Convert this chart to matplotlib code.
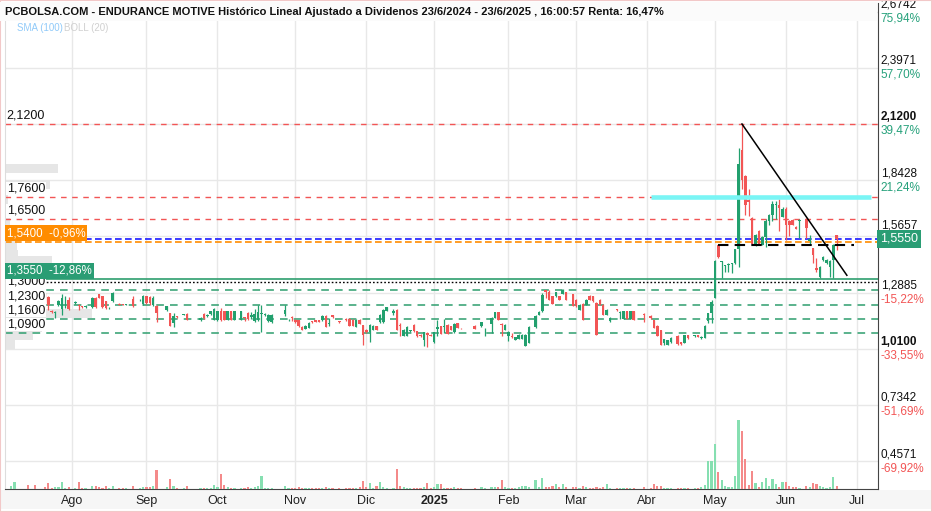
"""
Historic price chart (candles + volume) for Endurance Motive
"""
import numpy as np
import pandas as pd
import matplotlib
matplotlib.use("Agg")
import matplotlib.pyplot as plt
from matplotlib import font_manager
from matplotlib.patches import Rectangle

#----------------------------DATA-------------------------------#
first_day = '2024-07-05'
holidays = ['2024-12-25', '2024-12-26', '2025-01-01', '2025-04-18', '2025-04-21', '2025-05-01']

# one entry per trading day from first_day, None = no trades
opens = [
    None, 1.245, 1.24, None, None, None, 1.255, None, 1.25, None,
    None, 1.262, 1.267, 1.20, 1.19, 1.23, 1.208, 1.255, 1.254, None,
    1.236, 1.228, 1.222, 1.218, None, 1.218, 1.262, 1.28, 1.27, 1.245,
    1.212, 1.245, None, 1.234, 1.23, 1.228, None, 1.256, None, 1.25,
    1.232, 1.27, 1.266, 1.228, 1.225, None, None, 1.205, 1.186, 1.14,
    1.172, None, 1.18, 1.182, None, None, None, 1.152, 1.182, 1.172,
    1.184, 1.156, 1.156, 1.196, 1.196, 1.156, 1.196, 1.156, None, 1.156,
    1.166, 1.188, 1.17, 1.147, 1.152, 1.182, 1.176, 1.147, 1.142, None,
    None, None, 1.185, 1.152, 1.17, 1.156, 1.152, 1.12, 1.11, 1.114,
    1.149, 1.152, 1.152, 1.152, 1.175, 1.135, 1.177, None, 1.149, None,
    1.16, 1.16, 1.156, 1.12, 1.156, 1.129, 1.106, 1.093, 1.106, 1.123,
    1.142, 1.142, 1.2, None, 1.19, 1.205, 1.131, 1.077, 1.077, 1.098,
    1.13, 1.098, 1.082, 1.057, 1.09, 1.082, 1.044, 1.11, 1.123, 1.12,
    1.131, 1.123, 1.093, 1.139, 1.115, None, None, None, 1.126, None,
    1.123, 1.112, None, 1.134, 1.164, 1.193, 1.136, 1.106, 1.077, 1.077,
    1.057, 1.06, 1.06, 1.027, 1.04, None, 1.12, 1.178, 1.197, 1.30,
    1.29, 1.27, 1.27, 1.27, 1.284, 1.29, None, 1.282, 1.254, 1.205,
    1.234, 1.229, 1.274, 1.27, 1.238, 1.254, 1.229, 1.18, 1.147, None,
    1.208, 1.19, 1.159, 1.197, 1.159, 1.197, None, None, 1.185, None,
    1.175, 1.152, 1.126, 1.104, 1.04, 1.03, 1.044, None, 1.076, 1.044,
    1.04, 1.08, None, 1.074, 1.08, 1.063, 1.066, 1.149, 1.186, 1.264,
    1.524, 1.441, 1.42, 1.425, 1.43, 1.433, 1.504, 1.992, 1.864, 1.745,
    1.655, 1.524, 1.592, 1.524, 1.565, 1.642, 1.671, 1.72, 1.72, 1.663,
    1.701, 1.642, 1.647, 1.614, 1.642, None, 1.652, 1.543, 1.507, 1.408,
    1.367, 1.448, 1.433, 1.417, 1.448, 1.573,
]
highs = [
    None, 1.255, 1.26, None, None, None, 1.258, None, 1.252, None,
    None, 1.285, 1.27, 1.203, 1.196, 1.25, 1.28, 1.27, 1.265, None,
    1.246, 1.232, 1.224, 1.226, None, 1.266, 1.266, 1.284, 1.272, 1.248,
    1.218, 1.29, None, 1.236, 1.232, 1.234, None, 1.27, None, 1.256,
    1.276, 1.272, 1.27, 1.27, 1.23, None, None, 1.225, 1.19, 1.186,
    1.174, None, 1.184, 1.186, None, None, None, 1.166, 1.186, 1.182,
    1.2, 1.215, 1.2, 1.213, 1.198, 1.198, 1.198, 1.198, None, 1.198,
    1.17, 1.192, 1.195, 1.21, 1.229, 1.229, 1.186, 1.182, 1.182, None,
    None, None, 1.229, 1.158, 1.172, 1.158, 1.155, 1.122, 1.128, 1.142,
    1.15, 1.154, 1.154, 1.178, 1.178, 1.164, 1.178, None, 1.15, None,
    1.162, 1.162, 1.158, 1.158, 1.158, 1.131, 1.11, 1.132, 1.128, 1.125,
    1.182, 1.208, 1.22, None, 1.208, 1.208, 1.139, 1.108, 1.122, 1.104,
    1.132, 1.1, 1.084, 1.095, 1.092, 1.084, 1.095, 1.156, 1.125, 1.159,
    1.133, 1.125, 1.138, 1.141, 1.116, None, None, None, 1.128, None,
    1.144, 1.116, None, 1.166, 1.195, 1.195, 1.14, 1.133, 1.098, 1.09,
    1.07, 1.084, 1.084, 1.084, 1.122, None, 1.176, 1.197, 1.285, 1.302,
    1.30, 1.272, 1.292, 1.272, 1.305, 1.292, None, 1.284, 1.256, 1.231,
    1.236, 1.256, 1.276, 1.272, 1.24, 1.256, 1.231, 1.207, 1.166, None,
    1.21, 1.196, 1.199, 1.199, 1.199, 1.199, None, None, 1.186, None,
    1.177, 1.154, 1.129, 1.106, 1.062, 1.057, 1.068, None, 1.078, 1.046,
    1.082, 1.082, None, 1.082, 1.082, 1.073, 1.128, 1.19, 1.25, 1.45,
    1.53, 1.445, 1.425, 1.433, 1.436, 1.506, 2.0, 2.12, 1.87, 1.80,
    1.66, 1.58, 1.595, 1.567, 1.65, 1.675, 1.74, 1.74, 1.75, 1.71,
    1.71, 1.645, 1.65, 1.616, 1.65, None, 1.655, 1.575, 1.51, 1.46,
    1.42, 1.468, 1.452, 1.45, 1.53, 1.575,
]
lows = [
    None, 1.24, 1.238, None, None, None, 1.24, None, 1.235, None,
    None, 1.236, 1.205, 1.19, 1.164, 1.225, 1.18, 1.213, 1.205, None,
    1.232, 1.205, 1.214, 1.212, None, 1.215, 1.215, 1.26, 1.215, 1.21,
    1.21, 1.24, None, 1.226, 1.226, 1.226, None, 1.218, None, 1.248,
    1.23, 1.232, 1.23, 1.225, 1.142, None, None, 1.2, 1.122, 1.12,
    1.164, None, 1.178, 1.152, None, None, None, 1.15, 1.16, 1.17,
    1.18, 1.154, 1.15, 1.148, 1.154, 1.154, 1.154, 1.152, None, 1.155,
    1.148, 1.156, 1.158, 1.145, 1.147, 1.093, 1.175, 1.145, 1.14, None,
    None, None, 1.172, 1.15, 1.147, 1.14, 1.12, 1.104, 1.108, 1.112,
    1.14, 1.145, 1.145, 1.15, 1.118, 1.126, 1.164, None, 1.14, None,
    1.15, 1.124, 1.124, 1.118, 1.134, 1.032, 1.09, 1.044, 1.104, 1.104,
    1.14, 1.14, 1.198, None, 1.18, 1.104, 1.073, 1.075, 1.075, 1.096,
    1.096, 1.07, 1.071, 1.024, 1.021, 1.075, 1.042, 1.073, 1.084, 1.09,
    1.084, 1.104, 1.09, 1.112, 1.11, None, None, None, 1.108, None,
    1.121, 1.077, None, 1.09, 1.162, 1.154, 1.073, 1.104, 1.049, 1.065,
    1.055, 1.058, 1.058, 1.025, 1.038, None, 1.115, 1.176, 1.195, 1.262,
    1.252, 1.232, 1.268, 1.252, 1.282, 1.252, None, 1.222, 1.219, 1.203,
    1.154, 1.227, 1.252, 1.244, 1.08, 1.227, 1.178, 1.178, 1.145, None,
    1.2, 1.159, 1.157, 1.157, 1.157, 1.154, None, None, 1.142, None,
    1.16, 1.112, 1.075, 1.028, 1.032, 1.028, 1.042, None, 1.032, 1.032,
    1.038, 1.061, None, 1.072, 1.07, 1.061, 1.064, 1.137, 1.137, 1.26,
    1.46, 1.36, 1.392, 1.392, 1.384, 1.43, 1.417, 1.80, 1.67, 1.668,
    1.525, 1.52, 1.522, 1.522, 1.515, 1.62, 1.64, 1.65, 1.59, 1.66,
    1.55, 1.57, 1.62, 1.6, 1.56, None, 1.556, 1.53, 1.433, 1.392,
    1.36, 1.446, 1.431, 1.367, 1.36, 1.50,
]
closes = [
    None, 1.25, 1.255, None, None, None, 1.245, None, 1.24, None,
    None, 1.245, 1.228, 1.193, 1.193, 1.246, 1.262, 1.259, 1.208, None,
    1.24, 1.224, 1.217, 1.222, None, 1.262, 1.218, 1.262, 1.218, 1.213,
    1.215, 1.287, None, 1.227, 1.228, 1.232, None, 1.222, None, 1.254,
    1.27, 1.236, 1.236, 1.262, 1.19, None, None, 1.222, 1.126, 1.172,
    1.166, None, 1.182, 1.156, None, None, None, 1.163, 1.164, 1.178,
    1.196, 1.21, 1.196, 1.155, 1.156, 1.196, 1.156, 1.196, None, 1.196,
    1.162, 1.158, 1.178, 1.185, 1.192, 1.186, 1.185, 1.18, 1.18, None,
    None, None, 1.205, 1.155, 1.165, 1.142, 1.123, 1.106, 1.126, 1.139,
    1.142, 1.146, 1.146, 1.175, 1.12, 1.14, 1.166, None, 1.142, None,
    1.152, 1.126, 1.126, 1.156, 1.136, 1.082, 1.093, 1.129, 1.126, 1.106,
    1.18, 1.205, 1.218, None, 1.196, 1.106, 1.123, 1.106, 1.12, 1.102,
    1.098, 1.073, 1.073, 1.093, 1.078, 1.077, 1.093, 1.118, 1.086, 1.126,
    1.086, 1.106, 1.136, 1.114, 1.112, None, None, None, 1.11, None,
    1.142, 1.115, None, 1.164, 1.193, 1.156, 1.13, 1.131, 1.095, 1.07,
    1.068, 1.082, 1.082, 1.082, 1.12, None, 1.172, 1.195, 1.279, 1.29,
    1.254, 1.234, 1.29, 1.254, 1.303, 1.254, None, 1.224, 1.221, 1.229,
    1.156, 1.254, 1.254, 1.246, 1.082, 1.229, 1.18, 1.205, 1.164, None,
    1.202, 1.194, 1.197, 1.159, 1.197, 1.156, None, None, 1.18, None,
    1.162, 1.114, 1.077, 1.03, 1.06, 1.055, 1.066, None, 1.034, 1.034,
    1.08, 1.063, None, 1.08, 1.072, 1.071, 1.126, 1.186, 1.244, 1.445,
    1.466, 1.445, 1.425, 1.43, 1.435, 1.504, 1.921, 1.844, 1.721, 1.737,
    1.527, 1.573, 1.524, 1.565, 1.642, 1.671, 1.724, 1.726, 1.705, 1.701,
    1.622, 1.622, 1.622, 1.603, 1.647, None, 1.606, 1.553, 1.474, 1.40,
    1.417, 1.466, 1.45, 1.445, 1.524, 1.555,
]
volumes = [
    0, 3, 7, 0, 0, 0, 4, 0, 4, 0,
    0, 2, 6, 1, 2, 2, 7, 1, 2, 0,
    1, 7, 1, 1, 0, 3, 3, 2, 1, 3,
    1, 3, 0, 1, 1, 1, 0, 3, 0, 1,
    2, 2, 2, 3, 19, 0, 0, 2, 10, 3,
    1, 0, 1, 3, 0, 0, 0, 1, 1, 1,
    1, 4, 2, 15, 4, 2, 1, 1, 0, 1,
    1, 2, 1, 2, 3, 13, 1, 1, 1, 0,
    0, 0, 3, 1, 1, 1, 2, 1, 1, 1,
    1, 1, 1, 1, 2, 1, 1, 0, 1, 0,
    1, 1, 1, 1, 2, 8, 2, 6, 1, 3,
    7, 2, 1, 0, 1, 20, 3, 2, 1, 1,
    1, 1, 1, 2, 6, 1, 2, 5, 5, 1,
    1, 1, 2, 1, 1, 0, 0, 0, 1, 0,
    2, 1, 0, 2, 2, 2, 9, 2, 1, 1,
    1, 2, 3, 3, 2, 0, 9, 2, 11, 2,
    2, 3, 5, 2, 5, 2, 0, 2, 2, 1,
    3, 2, 1, 1, 2, 1, 2, 5, 1, 0,
    1, 1, 1, 1, 1, 1, 0, 0, 2, 0,
    1, 5, 3, 3, 1, 1, 1, 0, 1, 1,
    1, 1, 0, 1, 1, 2, 4, 28, 28, 45,
    17, 9, 3, 2, 2, 13, 69, 58, 30, 4,
    18, 6, 2, 7, 11, 3, 10, 5, 2, 7,
    7, 3, 2, 2, 1, 0, 3, 2, 6, 5,
    3, 2, 1, 2, 12, 3,
]

# volume by price (left gray histogram)
vp_prices = [1.90, 1.82, 1.75, 1.635, 1.525, 1.50, 1.475, 1.447, 1.42, 1.185, 1.117, 1.075, 1.035]
vp_volumes = [53, 45, 3, 5, 12, 12, 13, 47, 35, 87, 37, 28, 10]

# horizontal levels
red_levels = [2.12, 1.76, 1.65]
red_labels = ['2,1200', '1,7600', '1,6500']
green_levels = [1.30, 1.23, 1.16, 1.09]
green_labels = ['1,3000', '1,2300', '1,1600', '1,0900']
last_price = 1.555
last_label = '1,5550'
orange_level = 1.54
orange_label = '1,5400  -0,96%'
support_level = 1.355
support_label = '1,3550  -12,86%'
dotted_level = 1.34
box_level = 1.523
box_dates = ['2025-05-05', '2025-06-30']
cyan_level = 1.76
cyan_dates = ['2025-04-02', '2025-07-07']
trend_dates = ['2025-05-14', '2025-06-26']
trend_prices = [2.12, 1.374]

# axes
right_ticks = [2.6742, 2.3971, 2.1200, 1.8428, 1.5657, 1.2885, 1.0100, 0.7342, 0.4571]
right_labels = ['2,6742', '2,3971', '2,1200', '1,8428', '1,5657', '1,2885', '1,0100', '0,7342', '0,4571']
right_pcts = ['75,94%', '57,70%', '39,47%', '21,24%', '', '-15,22%', '-33,55%', '-51,69%', '-69,92%']
month_starts = ['2024-08-01', '2024-09-01', '2024-10-01', '2024-11-01', '2024-12-01', '2025-01-01',
                '2025-02-01', '2025-03-01', '2025-04-01', '2025-05-01', '2025-06-01', '2025-07-01']
month_labels = ['Ago', 'Sep', 'Oct', 'Nov', 'Dic', '2025', 'Feb', 'Mar', 'Abr', 'May', 'Jun', 'Jul']

title = ('PCBOLSA.COM - ENDURANCE MOTIVE Histórico Lineal Ajustado a Dividenos '
         '23/6/2024 - 23/6/2025 , 16:00:57 Renta: 16,47%')
#---------------------------------------------------------------#

names = {f.name for f in font_manager.fontManager.ttflist}
NARROW = 'Liberation Sans Narrow' if 'Liberation Sans Narrow' in names else 'Liberation Sans'
REG = 'Liberation Sans'

GREEN = '#22a06e'
RED = '#f25555'
VGREEN = '#86dfb1'
VRED = '#f48a8a'

cal = pd.bdate_range('2024-07-01', '2025-07-31')
cal = cal[~cal.isin(pd.to_datetime(holidays))]


def pos(d):
    return int(cal.searchsorted(pd.Timestamp(d)))


o = np.array(opens, dtype=float)
h = np.array(highs, dtype=float)
l = np.array(lows, dtype=float)
c = np.array(closes, dtype=float)
v = np.array(volumes, dtype=float)
xs = pos(first_day) + np.arange(len(o))

W, H = 932, 512
fig = plt.figure(figsize=(W / 100, H / 100), dpi=100)
ax = fig.add_axes([5 / W, (H - 489) / H, 873 / W, 486 / H])
ax.set_xlim(pos('2024-07-04') + 0.2, pos('2025-07-09') + 0.2)
ax.set_ylim(0.3203, 2.7166)

# gridlines / ticks
ax.set_xticks([pos(m) for m in month_starts])
ax.set_xticklabels(month_labels, fontsize=9, family=NARROW, color='#222222')
ax.get_xticklabels()[5].set_fontweight('bold')
ax.tick_params(axis='x', length=0, pad=4)
ax.set_yticks(right_ticks)
ax.set_yticklabels([])
ax.tick_params(axis='y', length=0)
ax.grid(True, color='#e8e8e8', lw=1)
ax.set_axisbelow(True)
ax.spines['top'].set_visible(False)
ax.spines['left'].set_color('#dddddd')
ax.spines['right'].set_color('#444444')
ax.spines['bottom'].set_color('#444444')

# volume profile
ax.barh(vp_prices, np.array(vp_volumes) / 3.384, left=ax.get_xlim()[0], height=0.044,
        color='#e6e6e6', zorder=0.8)

# level lines
for lv in red_levels:
    ax.axhline(lv, color=RED, lw=1, dashes=(4, 4), zorder=1)
for lv in green_levels:
    ax.axhline(lv, color='#2e9e6e', lw=1.1, dashes=(5, 4), zorder=1)
ax.axhline(last_price, color='#1a1aff', lw=1.2, dashes=(4, 2), zorder=1)
ax.axhline(orange_level, color='#ff8c00', lw=1.2, dashes=(4, 2), zorder=1)
ax.axhline(support_level, color='#2e9e6e', lw=1.2, zorder=1)
ax.axhline(dotted_level, color='black', lw=1, dashes=(1.2, 1.5), zorder=1)

# candles
for xi, oi, hi, li, ci in zip(xs, o, h, l, c):
    if np.isnan(oi):
        continue
    col = GREEN if ci >= oi else RED
    ax.vlines(xi, li, hi, color=col, lw=0.9, zorder=3)
    ax.bar(xi, max(abs(ci - oi), 0.003), bottom=min(oi, ci), width=0.74, color=col, zorder=3)

# drawn objects
ax.plot([pos(d) for d in cyan_dates], [cyan_level, cyan_level], color='#7af5f5', lw=3.3,
        solid_capstyle='butt', zorder=4)
ax.plot([pos(d) for d in box_dates], [box_level, box_level], color='black', lw=1.5,
        dashes=(5, 3), zorder=4)
ax.plot([pos(d) for d in trend_dates], trend_prices, color='black', lw=1.1, zorder=4)

# volume
vax = ax.twinx()
vax.set_ylim(0, 486)
vcols = [VGREEN if ci >= oi else VRED for oi, ci in zip(o, c)]
vax.bar(xs, v, width=0.65, color=vcols, linewidth=0)
vax.set_yticks([])
for s in vax.spines.values():
    s.set_visible(False)

ytr = ax.get_yaxis_transform()
# left level labels
for lv, lab in list(zip(red_levels, red_labels)) + list(zip(green_levels, green_labels)):
    ax.text(0.002, lv + 0.012, lab, transform=ytr, fontsize=9, family=REG, color='#111111',
            ha='left', va='bottom', zorder=6,
            bbox=dict(facecolor='white', edgecolor='none', pad=0.6))
ax.text(0.002, orange_level + 0.012, orange_label, transform=ytr, fontsize=8.3, family=REG,
        color='white', ha='left', va='bottom', zorder=6,
        bbox=dict(facecolor='#ff8c00', edgecolor='none', pad=1.5))
ax.text(0.002, support_level + 0.012, support_label, transform=ytr, fontsize=8.3, family=REG,
        color='white', ha='left', va='bottom', zorder=6,
        bbox=dict(facecolor='#2a9d74', edgecolor='none', pad=1.5))

# right axis labels
for val, lab, pct in zip(right_ticks, right_labels, right_pcts):
    bold = 'bold' if lab in ('2,1200', '1,0100') else 'normal'
    lift = 0.022 if not pct else 0.006   # label sitting just above the last-price box
    ax.text(1.003, val + lift, lab, transform=ytr, fontsize=8.5, family=NARROW, fontweight=bold,
            color='#111111', ha='left', va='bottom', clip_on=False)
    if pct:
        ax.text(1.003, val - 0.004, pct, transform=ytr, fontsize=8.5, family=NARROW,
                color=RED if pct.startswith('-') else '#26a17b', ha='left', va='top', clip_on=False)
ax.text(1.002, last_price, last_label, transform=ytr, fontsize=9, family=NARROW, color='white',
        ha='left', va='center', clip_on=False, zorder=7,
        bbox=dict(facecolor='#2a9d74', edgecolor='none', pad=2.2))

# header
fig.patches.append(Rectangle((0, (H - 21) / H), 877 / W, 19 / H, transform=fig.transFigure,
                             facecolor='#fbfbfb', edgecolor='none', zorder=5))
fig.text(5 / W, 1 - 12 / H, title, fontsize=8, fontweight='bold', family=NARROW,
         color='#111111', va='center', ha='left', zorder=6)
fig.text(17 / W, 1 - 28 / H, 'SMA (100)', fontsize=7, family=NARROW, color='#90caf9', va='center')
fig.text(64 / W, 1 - 28 / H, 'BOLL (20)', fontsize=7, family=NARROW, color='#d0d0d0', va='center')

# footer band and frame
fig.patches.append(Rectangle((0, 3 / H), 1, 19 / H, transform=fig.transFigure,
                             facecolor='#f6f6f6', edgecolor='none', zorder=-1))
fig.patches.append(Rectangle((0, 0), 1, 1, transform=fig.transFigure, fill=False,
                             edgecolor='#f2c8c8', lw=1.5))

plt.savefig('out.png', dpi=100)
